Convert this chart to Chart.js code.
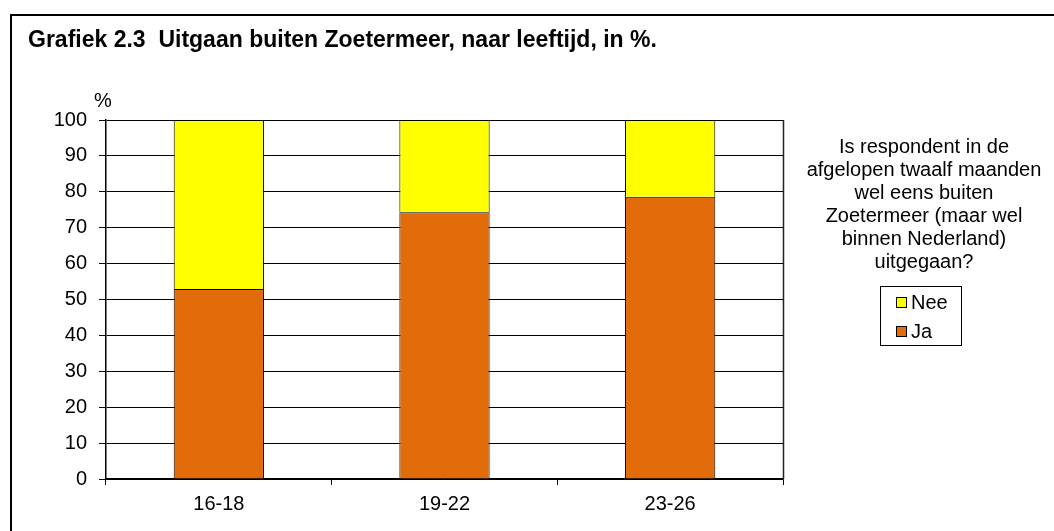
<!DOCTYPE html>
<html>
<head>
<meta charset="utf-8">
<script src="https://cdn.jsdelivr.net/npm/chart.js@4"></script>
<style>
  html, body { margin: 0; padding: 0; background: #fff; }
  #wrap { width: 1054px; height: 531px; }
</style>
</head>
<body>
<div id="wrap"><canvas id="uitgaanChart" width="1054" height="531"></canvas></div>
<script>
// Data
const ageGroups = ["16-18", "19-22", "23-26"];
const jaValues = [52.9, 74.3, 78.6];
const neeValues = [47.1, 25.7, 21.4];
const yTicks = [0, 10, 20, 30, 40, 50, 60, 70, 80, 90, 100];

const chartTitle = "Grafiek 2.3  Uitgaan buiten Zoetermeer, naar leeftijd, in %.";
const questionLines = [
  "Is respondent in de",
  "afgelopen twaalf maanden",
  "wel eens buiten",
  "Zoetermeer (maar wel",
  "binnen Nederland)",
  "uitgegaan?",
];

const FONT = "'Liberation Sans', Arial, sans-serif";

// Frame, title, % label, plot border and the legend on the right
const decorPlugin = {
  id: "decorPlugin",
  afterDraw(chart) {
    const ctx = chart.ctx;
    const area = chart.chartArea;
    ctx.save();

    // outer frame (only top and left edges are visible)
    ctx.strokeStyle = "#000";
    ctx.lineWidth = 2;
    ctx.beginPath();
    ctx.moveTo(11, 540);
    ctx.lineTo(11, 15);
    ctx.lineTo(1060, 15);
    ctx.stroke();

    // title
    ctx.fillStyle = "#000";
    ctx.font = "bold 23px " + FONT;
    ctx.textAlign = "left";
    ctx.textBaseline = "alphabetic";
    ctx.fillText(chartTitle, 28, 47);

    // % unit above y axis
    ctx.font = "20px " + FONT;
    ctx.textAlign = "center";
    ctx.textBaseline = "middle";
    ctx.fillText("%", area.left - 3, 101);

    // right border of plot area
    ctx.lineWidth = 1.5;
    ctx.strokeStyle = "#222";
    ctx.beginPath();
    ctx.moveTo(area.right + 0.5, area.top);
    ctx.lineTo(area.right + 0.5, area.bottom);
    ctx.stroke();

    // legend question text
    const cx = 924;
    ctx.font = "20px " + FONT;
    ctx.fillStyle = "#000";
    questionLines.forEach((line, i) => {
      ctx.fillText(line, cx, 147 + i * 23);
    });

    // legend box
    ctx.lineWidth = 1;
    ctx.strokeStyle = "#000";
    ctx.strokeRect(880.5, 286.5, 81, 59);

    const items = chart.data.datasets.slice().reverse();
    ctx.textAlign = "left";
    items.forEach((ds, i) => {
      const y = 302 + i * 29;
      ctx.fillStyle = ds.backgroundColor;
      ctx.fillRect(896, y - 5, 10, 10);
      ctx.strokeRect(896.5, y - 4.5, 10, 10);
      ctx.fillStyle = "#000";
      ctx.fillText(ds.label, 911, y + 1);
    });

    ctx.restore();
  },
};

const ctx = document.getElementById("uitgaanChart").getContext("2d");

new Chart(ctx, {
  type: "bar",
  data: {
    labels: ageGroups,
    datasets: [
      {
        label: "Ja",
        data: jaValues,
        backgroundColor: "#E36C0A",
        borderColor: "#000",
        borderWidth: 1,
        barPercentage: 0.4,
        categoryPercentage: 1,
      },
      {
        label: "Nee",
        data: neeValues,
        backgroundColor: "#FFFF00",
        borderColor: "#000",
        borderWidth: 1,
        barPercentage: 0.4,
        categoryPercentage: 1,
      },
    ],
  },
  options: {
    responsive: false,
    animation: false,
    layout: { padding: { left: 0, right: 271, top: 120, bottom: 0 } },
    plugins: {
      legend: { display: false },
      tooltip: { enabled: false },
      title: { display: false },
    },
    scales: {
      x: {
        stacked: true,
        afterFit(scale) { scale.height = 52; },
        grid: {
          offset: true,
          drawOnChartArea: false,
          color: "#000",
          tickLength: 6,
        },
        border: { color: "#000", width: 1.5 },
        ticks: {
          color: "#000",
          padding: 7,
          font: { family: FONT, size: 20 },
        },
      },
      y: {
        stacked: true,
        min: 0,
        max: 100,
        afterFit(scale) { scale.width = 106; },
        afterBuildTicks(scale) {
          scale.ticks = yTicks.map((v) => ({ value: v }));
        },
        grid: { color: "#000", lineWidth: 1, tickLength: 7 },
        border: { color: "#000", width: 1.5 },
        ticks: {
          color: "#000",
          padding: 12,
          font: { family: FONT, size: 20 },
        },
      },
    },
  },
  plugins: [decorPlugin],
});
</script>
</body>
</html>
